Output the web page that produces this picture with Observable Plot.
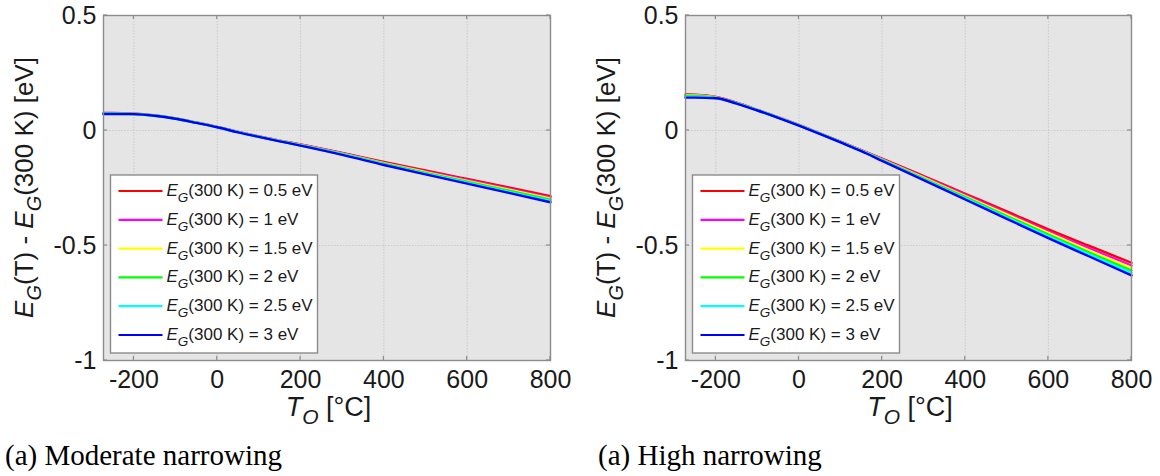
<!DOCTYPE html>
<html><head><meta charset="utf-8">
<script src="https://cdn.jsdelivr.net/npm/d3@7"></script>
<script src="https://cdn.jsdelivr.net/npm/@observablehq/plot@0.6"></script>
<style>
body{margin:0;background:#fff;}
#wrap{position:relative;width:1160px;height:476px;overflow:hidden;background:#fff;}
.panel{position:absolute;top:0;}
.cap{position:absolute;font-family:"Liberation Serif","Times New Roman",serif;font-size:29px;color:#000;white-space:nowrap;line-height:1;}
</style></head><body>
<div id="wrap"></div>
<script>
// ---- data ----
const temps = [-273,-250,-200,-150,-100,-50,0,50,100,150,200,300,400,500,600,700,800];
const seriesLabels = ["0.5","1","1.5","2","2.5","3"];
const seriesColors = ["#ff0000","#ff00ff","#ffff00","#00ff00","#00ffff","#0000ff"];
const xTicks = [-200,0,200,400,600,800];
const yTicks = [-1,-0.5,0,0.5];
const captions = ["(a) Moderate narrowing","(a) High narrowing"];

// Moderate narrowing: EG(T) - EG(300 K) per series
const mod05 = [0.076,0.076,0.073,0.066,0.053,0.035,0.016,-0.006,-0.026,-0.044,-0.061,-0.098,-0.137,-0.174,-0.211,-0.248,-0.286];
const mod10 = [0.075,0.075,0.072,0.065,0.052,0.034,0.015,-0.006,-0.026,-0.045,-0.062,-0.099,-0.140,-0.178,-0.215,-0.253,-0.291];
const mod15 = [0.075,0.074,0.072,0.065,0.052,0.034,0.015,-0.007,-0.027,-0.045,-0.063,-0.101,-0.142,-0.181,-0.219,-0.257,-0.296];
const mod20 = [0.074,0.074,0.072,0.065,0.052,0.034,0.015,-0.007,-0.027,-0.046,-0.064,-0.102,-0.144,-0.184,-0.223,-0.262,-0.301];
const mod25 = [0.073,0.073,0.071,0.064,0.051,0.033,0.014,-0.007,-0.028,-0.046,-0.065,-0.104,-0.147,-0.188,-0.227,-0.267,-0.306];
const mod30 = [0.072,0.072,0.071,0.064,0.051,0.033,0.014,-0.008,-0.028,-0.047,-0.066,-0.106,-0.150,-0.191,-0.231,-0.271,-0.312];

// High narrowing
const high05 = [0.157,0.156,0.146,0.121,0.090,0.058,0.024,-0.012,-0.048,-0.085,-0.122,-0.198,-0.275,-0.352,-0.430,-0.503,-0.575];
const high10 = [0.155,0.154,0.145,0.120,0.089,0.057,0.023,-0.013,-0.049,-0.086,-0.124,-0.202,-0.280,-0.359,-0.438,-0.513,-0.587];
const high15 = [0.153,0.152,0.144,0.119,0.089,0.057,0.023,-0.013,-0.050,-0.087,-0.126,-0.205,-0.285,-0.365,-0.445,-0.523,-0.598];
const high20 = [0.151,0.150,0.143,0.119,0.088,0.056,0.022,-0.014,-0.050,-0.088,-0.128,-0.209,-0.290,-0.372,-0.453,-0.532,-0.609];
const high25 = [0.147,0.147,0.141,0.118,0.088,0.056,0.022,-0.014,-0.051,-0.089,-0.130,-0.212,-0.295,-0.378,-0.460,-0.540,-0.619];
const high30 = [0.143,0.143,0.140,0.117,0.087,0.055,0.021,-0.015,-0.052,-0.090,-0.132,-0.216,-0.300,-0.384,-0.468,-0.549,-0.630];

const moderate = [mod05,mod10,mod15,mod20,mod25,mod30];
const high = [high05,high10,high15,high20,high25,high30];

const wrap = document.getElementById("wrap");
const FONT = "'Liberation Sans', Arial, Helvetica, sans-serif";

function panel(values, offsetX, ml, mr, caption, capX) {
  const data = values.flatMap((arr, i) => arr.map((v, j) => ({T: temps[j], v, s: seriesLabels[i]})));
  const W = 580, H = 420, MT = 15, MB = 60;
  const p = Plot.plot({
    width: W, height: H, marginLeft: ml, marginRight: mr, marginTop: MT, marginBottom: MB,
    style: {fontFamily: FONT, fontSize: "25px", color: "#1a1a1a", background: "transparent", overflow: "visible"},
    x: {domain: [-273, 800], label: null},
    y: {domain: [-1, 0.5], label: null},
    color: {domain: seriesLabels, range: seriesColors},
    marks: [
      Plot.frame({fill: "#e5e5e5", stroke: null}),
      Plot.gridX(xTicks, {stroke: "#c9c9c9", strokeOpacity: 1, strokeWidth: 1, strokeDasharray: "1.5,1.5"}),
      Plot.gridY(yTicks, {stroke: "#c9c9c9", strokeOpacity: 1, strokeWidth: 1, strokeDasharray: "1.5,1.5"}),
      Plot.line(data, {x: "T", y: "v", z: "s", stroke: "s", strokeWidth: 2.4, curve: "monotone-x"}),
      Plot.frame({stroke: "#8c8c8c", strokeWidth: 1.4}),
      Plot.axisX(xTicks, {tickSize: 0, tickPadding: 10, tickFormat: d => String(d), fontSize: 25}),
      Plot.axisY(yTicks, {tickSize: 0, tickPadding: 7, tickFormat: d => String(d), fontSize: 25})
    ]
  });
  const sx = p.scale("x"), sy = p.scale("y");
  const svg = d3.select(p);
  const x0 = sx.apply(-273), x1 = sx.apply(800), y0 = sy.apply(-1), y1 = sy.apply(0.5);
  const g = svg.append("g").attr("stroke", "#8c8c8c").attr("stroke-width", 1.2);
  xTicks.forEach(t => {
    const x = sx.apply(t);
    g.append("line").attr("x1", x).attr("x2", x).attr("y1", y0).attr("y2", y0 - 4);
    g.append("line").attr("x1", x).attr("x2", x).attr("y1", y1).attr("y2", y1 + 4);
  });
  yTicks.forEach(t => {
    const y = sy.apply(t);
    g.append("line").attr("x1", x0).attr("x2", x0 + 4).attr("y1", y).attr("y2", y);
    g.append("line").attr("x1", x1).attr("x2", x1 - 4).attr("y1", y).attr("y2", y);
  });

  // x-axis title
  const xt = svg.append("text").attr("x", (x0 + x1) / 2 + 2).attr("y", 416)
    .attr("text-anchor", "middle").attr("font-family", FONT).attr("font-size", 27).attr("fill", "#1a1a1a");
  xt.append("tspan").attr("font-style", "italic").text("T");
  xt.append("tspan").attr("font-style", "italic").attr("font-size", 21).attr("dy", 8).text("O");
  xt.append("tspan").attr("dy", -8).text(" [\u00B0C]");

  // y-axis title
  const yt = svg.append("text").attr("transform", `translate(${ml - 70},${(y0 + y1) / 2}) rotate(-90)`)
    .attr("text-anchor", "middle").attr("font-family", FONT).attr("font-size", 26).attr("fill", "#1a1a1a");
  yt.append("tspan").attr("font-style", "italic").text("E");
  yt.append("tspan").attr("font-style", "italic").attr("font-size", 20).attr("dy", 8).text("G");
  yt.append("tspan").attr("dy", -8).text("(T) - ");
  yt.append("tspan").attr("font-style", "italic").text("E");
  yt.append("tspan").attr("font-style", "italic").attr("font-size", 20).attr("dy", 8).text("G");
  yt.append("tspan").attr("dy", -8).text("(300 K) [eV]");

  // legend
  const lx = x0 + 7.5, ly = 175, lw = 207, lh = 178;
  const lg = svg.append("g").attr("text-anchor", "start");
  lg.append("rect").attr("x", lx).attr("y", ly).attr("width", lw).attr("height", lh)
    .attr("fill", "#fff").attr("stroke", "#8c8c8c").attr("stroke-width", 1.4);
  seriesLabels.forEach((s, i) => {
    const cy = ly + 16 + i * 28.8;
    lg.append("line").attr("x1", lx + 8).attr("x2", lx + 52).attr("y1", cy).attr("y2", cy)
      .attr("stroke", seriesColors[i]).attr("stroke-width", 2.2);
    const t = lg.append("text").attr("x", lx + 56).attr("y", cy + 5).attr("font-family", FONT)
      .attr("text-anchor", "start").attr("font-size", 17).attr("fill", "#1a1a1a");
    t.append("tspan").attr("font-style", "italic").text("E");
    t.append("tspan").attr("font-style", "italic").attr("font-size", 13.5).attr("dy", 6).text("G");
    t.append("tspan").attr("dy", -6).text(`(300 K) = ${s} eV`);
  });

  const holder = document.createElement("div");
  holder.className = "panel";
  holder.style.left = offsetX + "px";
  holder.appendChild(p);
  wrap.appendChild(holder);

  const cap = document.createElement("div");
  cap.className = "cap";
  cap.style.left = capX + "px";
  cap.style.top = "441px";
  cap.textContent = caption;
  wrap.appendChild(cap);
}

panel(moderate, 0, 103, 30, captions[0], 5);
panel(high, 580, 105, 29, captions[1], 598);
</script>
</body></html>
